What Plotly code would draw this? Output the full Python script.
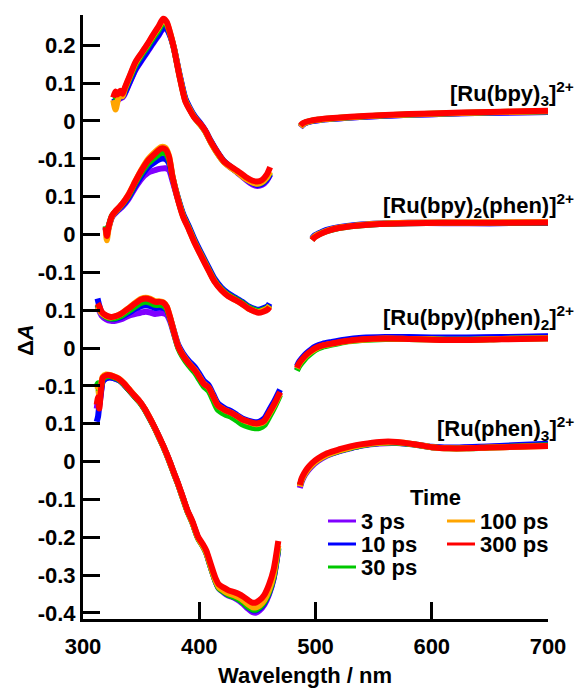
import plotly.graph_objects as go

# ---------------- data ----------------
time_labels = ["3 ps", "10 ps", "30 ps", "100 ps", "300 ps"]
time_colors = ["#8000ff", "#0000ff", "#00c800", "#ffa500", "#ff0000"]

compound_labels = ["[Ru(bpy)<sub>3</sub>]<sup>2+</sup>",
                   "[Ru(bpy)<sub>2</sub>(phen)]<sup>2+</sup>",
                   "[Ru(bpy)(phen)<sub>2</sub>]<sup>2+</sup>",
                   "[Ru(phen)<sub>3</sub>]<sup>2+</sup>"]
panel_offsets = [0.9, 0.6, 0.3, 0.0]

ytick_vals = [-0.4, -0.3, -0.2, -0.1, 0.0, 0.1, 0.2, 0.3, 0.4, 0.5, 0.6, 0.7, 0.8, 0.9, 1.0, 1.1]
ytick_text = ["-0.4", "-0.3", "-0.2", "-0.1", "0", "0.1", "-0.1", "0", "0.1",
              "-0.1", "0", "0.1", "-0.1", "0", "0.1", "0.2"]
xtick_vals = [300, 400, 500, 600, 700]

# Panel 1: [Ru(bpy)3]2+
p1_uv_wl = [326, 328, 330, 332, 334, 336, 340, 345, 350, 355, 360, 365, 369, 372, 375, 378, 383, 388, 392, 396, 401, 405, 410, 415, 421, 427, 433, 440, 446, 450, 454, 458, 461]
p1_uv_300 = [0.062, 0.078, 0.070, 0.080, 0.072, 0.088, 0.118, 0.155, 0.178, 0.201, 0.226, 0.250, 0.270, 0.262, 0.232, 0.195, 0.118, 0.052, 0.028, 0.008, -0.008, -0.025, -0.055, -0.080, -0.106, -0.120, -0.132, -0.148, -0.158, -0.160, -0.156, -0.142, -0.122]
p1_uv_100 = [0.055, 0.030, 0.055, 0.070, 0.065, 0.085, 0.116, 0.152, 0.177, 0.200, 0.224, 0.247, 0.266, 0.259, 0.232, 0.196, 0.120, 0.054, 0.030, 0.009, -0.010, -0.027, -0.057, -0.083, -0.108, -0.123, -0.136, -0.153, -0.163, -0.166, -0.162, -0.150, -0.134]
p1_uv_30 = [0.058, 0.060, 0.062, 0.066, 0.068, 0.082, 0.112, 0.147, 0.172, 0.194, 0.218, 0.240, 0.260, 0.254, 0.229, 0.195, 0.120, 0.055, 0.030, 0.009, -0.010, -0.027, -0.056, -0.082, -0.107, -0.122, -0.135, -0.152, -0.162, -0.165, -0.162, -0.150, -0.136]
p1_uv_10 = [0.050, 0.055, 0.058, 0.062, 0.064, 0.074, 0.102, 0.136, 0.160, 0.183, 0.206, 0.228, 0.246, 0.244, 0.226, 0.196, 0.124, 0.060, 0.034, 0.013, -0.006, -0.024, -0.053, -0.079, -0.105, -0.121, -0.135, -0.153, -0.165, -0.169, -0.166, -0.155, -0.140]
p1_uv_3 = [0.048, 0.052, 0.055, 0.060, 0.062, 0.072, 0.100, 0.134, 0.158, 0.181, 0.204, 0.226, 0.244, 0.242, 0.224, 0.194, 0.122, 0.058, 0.032, 0.011, -0.008, -0.026, -0.055, -0.081, -0.107, -0.123, -0.137, -0.155, -0.168, -0.172, -0.169, -0.158, -0.142]
p1_vis_wl = [487, 489, 492, 496, 502, 512, 530, 560, 600, 650, 700]
p1_vis_300 = [-0.012, -0.006, -0.002, 0.001, 0.004, 0.007, 0.011, 0.016, 0.020, 0.024, 0.027]
p1_vis_100 = [-0.016, -0.009, -0.004, 0.000, 0.003, 0.006, 0.010, 0.015, 0.019, 0.023, 0.026]
p1_vis_30 = [-0.014, -0.008, -0.003, 0.000, 0.003, 0.006, 0.010, 0.015, 0.019, 0.023, 0.026]
p1_vis_10 = [-0.016, -0.010, -0.005, -0.001, 0.002, 0.005, 0.009, 0.014, 0.018, 0.022, 0.024]
p1_vis_3 = [-0.017, -0.010, -0.005, -0.001, 0.002, 0.005, 0.009, 0.014, 0.018, 0.022, 0.024]

# Panel 2: [Ru(bpy)2(phen)]2+
p2_uv_wl = [319.5, 320.5, 322, 325, 328, 331, 334, 339, 345, 350, 356, 362, 367, 371, 374, 377, 381, 386, 391, 396, 402, 408, 413, 419, 425, 431, 437, 442, 448, 451, 455, 459, 460.5]
p2_uv_300 = [0.020, -0.004, 0.020, 0.050, 0.062, 0.072, 0.082, 0.104, 0.140, 0.168, 0.196, 0.214, 0.227, 0.225, 0.205, 0.152, 0.100, 0.048, 0.014, -0.022, -0.059, -0.095, -0.124, -0.147, -0.163, -0.173, -0.184, -0.195, -0.204, -0.207, -0.204, -0.198, -0.192]
p2_uv_100 = [0.015, -0.015, 0.015, 0.048, 0.061, 0.071, 0.082, 0.105, 0.141, 0.170, 0.199, 0.218, 0.231, 0.229, 0.208, 0.154, 0.101, 0.049, 0.015, -0.021, -0.058, -0.094, -0.123, -0.146, -0.162, -0.173, -0.184, -0.195, -0.203, -0.205, -0.201, -0.194, -0.188]
p2_uv_30 = [0.022, 0.005, 0.022, 0.050, 0.061, 0.070, 0.080, 0.101, 0.136, 0.162, 0.188, 0.204, 0.215, 0.214, 0.198, 0.152, 0.102, 0.051, 0.017, -0.019, -0.056, -0.092, -0.121, -0.144, -0.160, -0.170, -0.181, -0.192, -0.200, -0.202, -0.199, -0.193, -0.187]
p2_uv_10 = [0.018, 0.000, 0.020, 0.048, 0.059, 0.068, 0.077, 0.097, 0.129, 0.154, 0.178, 0.192, 0.200, 0.199, 0.188, 0.150, 0.104, 0.055, 0.022, -0.014, -0.051, -0.087, -0.116, -0.140, -0.156, -0.167, -0.178, -0.189, -0.197, -0.199, -0.195, -0.189, -0.182]
p2_uv_3 = [0.016, -0.002, 0.018, 0.046, 0.057, 0.066, 0.074, 0.093, 0.124, 0.146, 0.163, 0.170, 0.174, 0.175, 0.170, 0.142, 0.100, 0.052, 0.019, -0.017, -0.054, -0.090, -0.119, -0.142, -0.158, -0.169, -0.180, -0.191, -0.199, -0.201, -0.197, -0.191, -0.185]
p2_vis_wl = [497, 499, 502, 506, 512, 520, 535, 555, 580, 610, 650, 700]
p2_vis_300 = [-0.015, -0.008, -0.002, 0.004, 0.011, 0.017, 0.023, 0.028, 0.030, 0.031, 0.031, 0.032]
p2_vis_100 = [-0.013, -0.006, 0.000, 0.005, 0.012, 0.018, 0.024, 0.029, 0.031, 0.032, 0.032, 0.033]
p2_vis_30 = [-0.014, -0.007, -0.001, 0.005, 0.011, 0.017, 0.023, 0.028, 0.030, 0.031, 0.031, 0.032]
p2_vis_10 = [-0.010, -0.003, 0.002, 0.008, 0.014, 0.019, 0.025, 0.029, 0.031, 0.031, 0.030, 0.031]
p2_vis_3 = [-0.012, -0.005, 0.001, 0.006, 0.012, 0.018, 0.024, 0.028, 0.030, 0.030, 0.030, 0.031]

# Panel 3: [Ru(bpy)(phen)2]2+
p3_uv_wl = [312.5, 314, 316, 320, 324, 328, 333, 339, 345, 350, 354, 358, 362, 366, 369, 372, 375, 378, 382, 386, 391, 396, 400, 404, 408, 412, 416, 422, 428, 433, 437, 442, 448, 452, 456, 460, 465, 469.5]
p3_uv_300 = [0.118, 0.110, 0.096, 0.086, 0.082, 0.084, 0.091, 0.104, 0.118, 0.128, 0.131, 0.128, 0.122, 0.122, 0.120, 0.109, 0.080, 0.045, 0.003, -0.020, -0.041, -0.058, -0.076, -0.095, -0.104, -0.128, -0.152, -0.164, -0.172, -0.181, -0.189, -0.194, -0.199, -0.198, -0.192, -0.172, -0.145, -0.116]
p3_uv_100 = [0.110, 0.102, 0.092, 0.084, 0.081, 0.084, 0.091, 0.105, 0.120, 0.130, 0.133, 0.130, 0.124, 0.123, 0.121, 0.110, 0.081, 0.046, 0.004, -0.019, -0.040, -0.057, -0.075, -0.094, -0.104, -0.128, -0.152, -0.164, -0.172, -0.181, -0.189, -0.195, -0.201, -0.200, -0.194, -0.175, -0.148, -0.120]
p3_uv_30 = [0.115, 0.104, 0.092, 0.082, 0.078, 0.079, 0.085, 0.097, 0.110, 0.119, 0.122, 0.119, 0.114, 0.114, 0.112, 0.103, 0.077, 0.043, 0.000, -0.024, -0.046, -0.064, -0.083, -0.102, -0.113, -0.138, -0.163, -0.175, -0.183, -0.193, -0.202, -0.208, -0.212, -0.211, -0.204, -0.183, -0.154, -0.124]
p3_uv_10 = [0.131, 0.112, 0.094, 0.082, 0.077, 0.077, 0.082, 0.092, 0.104, 0.111, 0.113, 0.111, 0.106, 0.107, 0.106, 0.100, 0.078, 0.047, 0.008, -0.014, -0.034, -0.050, -0.068, -0.087, -0.098, -0.122, -0.146, -0.159, -0.168, -0.178, -0.186, -0.192, -0.196, -0.194, -0.186, -0.165, -0.138, -0.110]
p3_uv_3 = [0.112, 0.098, 0.086, 0.076, 0.072, 0.072, 0.076, 0.085, 0.090, 0.094, 0.096, 0.094, 0.090, 0.092, 0.092, 0.088, 0.070, 0.040, 0.002, -0.020, -0.040, -0.056, -0.074, -0.093, -0.104, -0.128, -0.152, -0.165, -0.173, -0.183, -0.191, -0.196, -0.200, -0.199, -0.192, -0.172, -0.146, -0.118]
p3_vis_wl = [484, 486, 489, 492, 496, 500, 506, 514, 525, 540, 560, 580, 600, 630, 660, 700]
p3_vis_300 = [-0.052, -0.040, -0.028, -0.018, -0.008, 0.000, 0.007, 0.012, 0.018, 0.023, 0.025, 0.024, 0.022, 0.021, 0.023, 0.025]
p3_vis_100 = [-0.054, -0.042, -0.030, -0.020, -0.010, -0.002, 0.006, 0.011, 0.017, 0.022, 0.025, 0.024, 0.023, 0.022, 0.024, 0.026]
p3_vis_30 = [-0.060, -0.048, -0.036, -0.025, -0.014, -0.005, 0.003, 0.009, 0.016, 0.021, 0.024, 0.024, 0.023, 0.022, 0.024, 0.026]
p3_vis_10 = [-0.048, -0.036, -0.024, -0.014, -0.004, 0.004, 0.011, 0.016, 0.022, 0.027, 0.029, 0.029, 0.028, 0.028, 0.029, 0.031]
p3_vis_3 = [-0.058, -0.045, -0.032, -0.021, -0.010, -0.001, 0.007, 0.013, 0.019, 0.024, 0.027, 0.027, 0.026, 0.026, 0.028, 0.030]

# Panel 4: [Ru(phen)3]2+
p4_uv_wl = [311.8, 313, 314, 315.5, 317, 320, 323, 327, 331, 335, 339, 344, 349, 353, 358, 362, 366, 370, 374, 378, 382, 386, 390, 394, 399, 403, 406, 410, 414, 417, 421, 425, 430, 434, 438, 442, 446, 449, 452, 456, 460, 464, 468]
p4_uv_300 = [0.150, 0.170, 0.140, 0.190, 0.222, 0.228, 0.228, 0.224, 0.218, 0.207, 0.193, 0.175, 0.158, 0.140, 0.112, 0.088, 0.062, 0.035, 0.005, -0.028, -0.060, -0.095, -0.130, -0.157, -0.199, -0.218, -0.235, -0.272, -0.308, -0.325, -0.333, -0.340, -0.345, -0.350, -0.357, -0.366, -0.373, -0.372, -0.366, -0.352, -0.325, -0.285, -0.210]
p4_uv_100 = [0.190, 0.194, 0.170, 0.200, 0.224, 0.230, 0.229, 0.225, 0.219, 0.208, 0.194, 0.176, 0.158, 0.140, 0.112, 0.087, 0.061, 0.034, 0.004, -0.029, -0.061, -0.097, -0.132, -0.160, -0.202, -0.222, -0.240, -0.278, -0.314, -0.332, -0.341, -0.348, -0.353, -0.359, -0.367, -0.377, -0.385, -0.385, -0.380, -0.366, -0.340, -0.298, -0.222]
p4_uv_30 = [0.200, 0.207, 0.175, 0.196, 0.218, 0.225, 0.226, 0.222, 0.216, 0.205, 0.191, 0.173, 0.156, 0.138, 0.110, 0.086, 0.060, 0.033, 0.003, -0.030, -0.062, -0.098, -0.133, -0.161, -0.203, -0.223, -0.241, -0.280, -0.316, -0.335, -0.344, -0.352, -0.358, -0.364, -0.373, -0.384, -0.391, -0.391, -0.385, -0.371, -0.345, -0.304, -0.228]
p4_uv_10 = [0.105, 0.120, 0.150, 0.185, 0.212, 0.220, 0.222, 0.220, 0.215, 0.205, 0.191, 0.174, 0.157, 0.139, 0.111, 0.087, 0.061, 0.034, 0.004, -0.029, -0.061, -0.097, -0.132, -0.160, -0.202, -0.222, -0.240, -0.279, -0.315, -0.334, -0.344, -0.352, -0.358, -0.364, -0.373, -0.385, -0.393, -0.393, -0.388, -0.374, -0.348, -0.307, -0.230]
p4_uv_3 = [0.140, 0.160, 0.150, 0.182, 0.212, 0.221, 0.223, 0.220, 0.215, 0.205, 0.191, 0.174, 0.157, 0.139, 0.111, 0.087, 0.061, 0.034, 0.004, -0.029, -0.061, -0.097, -0.132, -0.160, -0.202, -0.222, -0.241, -0.280, -0.317, -0.336, -0.346, -0.354, -0.360, -0.367, -0.377, -0.389, -0.398, -0.399, -0.393, -0.378, -0.351, -0.309, -0.232]
p4_vis_wl = [486.5, 488, 490, 493, 497, 502, 510, 520, 530, 540, 555, 570, 585, 600, 615, 630, 650, 675, 700]
p4_vis_300 = [-0.062, -0.045, -0.032, -0.018, -0.004, 0.008, 0.022, 0.032, 0.040, 0.046, 0.052, 0.052, 0.046, 0.038, 0.035, 0.035, 0.037, 0.039, 0.041]
p4_vis_100 = [-0.066, -0.050, -0.037, -0.023, -0.009, 0.004, 0.018, 0.029, 0.037, 0.044, 0.050, 0.051, 0.046, 0.038, 0.035, 0.035, 0.037, 0.039, 0.041]
p4_vis_30 = [-0.064, -0.049, -0.036, -0.022, -0.008, 0.004, 0.018, 0.028, 0.036, 0.043, 0.049, 0.050, 0.045, 0.038, 0.035, 0.035, 0.037, 0.040, 0.043]
p4_vis_10 = [-0.066, -0.050, -0.037, -0.023, -0.009, 0.004, 0.018, 0.028, 0.036, 0.043, 0.049, 0.050, 0.046, 0.039, 0.037, 0.038, 0.040, 0.044, 0.047]
p4_vis_3 = [-0.070, -0.054, -0.040, -0.026, -0.012, 0.001, 0.016, 0.027, 0.035, 0.042, 0.048, 0.049, 0.045, 0.038, 0.036, 0.037, 0.039, 0.042, 0.045]

panels = [
    (p1_uv_wl, [p1_uv_3, p1_uv_10, p1_uv_30, p1_uv_100, p1_uv_300],
     p1_vis_wl, [p1_vis_3, p1_vis_10, p1_vis_30, p1_vis_100, p1_vis_300]),
    (p2_uv_wl, [p2_uv_3, p2_uv_10, p2_uv_30, p2_uv_100, p2_uv_300],
     p2_vis_wl, [p2_vis_3, p2_vis_10, p2_vis_30, p2_vis_100, p2_vis_300]),
    (p3_uv_wl, [p3_uv_3, p3_uv_10, p3_uv_30, p3_uv_100, p3_uv_300],
     p3_vis_wl, [p3_vis_3, p3_vis_10, p3_vis_30, p3_vis_100, p3_vis_300]),
    (p4_uv_wl, [p4_uv_3, p4_uv_10, p4_uv_30, p4_uv_100, p4_uv_300],
     p4_vis_wl, [p4_vis_3, p4_vis_10, p4_vis_30, p4_vis_100, p4_vis_300]),
]

# ---------------- styling ----------------
FONT = "Arial, 'Liberation Sans', Helvetica, sans-serif"
W, H = 578, 689
ML, MR, MT, MB = 83, 30, 15, 70
PW, PH = W - ML - MR, H - MT - MB


def px_x(px):
    return (px - ML) / PW


def px_y(py):
    return (H - MB - py) / PH


def tfont(size=22):
    return dict(family=FONT, size=size, color="black", weight="bold")


fig = go.Figure()

for (uv_wl, uv_sets, vis_wl, vis_sets), off in zip(panels, panel_offsets):
    for wl, sets in ((uv_wl, uv_sets), (vis_wl, vis_sets)):
        for vals, col, lab in zip(sets, time_colors, time_labels):
            fig.add_trace(go.Scatter(
                x=wl, y=[v + off for v in vals], mode="lines",
                line=dict(color=col, width=6, shape="spline", smoothing=0.7),
                name=lab, showlegend=False, hoverinfo="skip"))

fig.update_xaxes(range=[300, 700], tickvals=xtick_vals, ticks="inside", ticklen=17,
                 tickwidth=3, tickcolor="black", showline=True, linewidth=3,
                 linecolor="black", showgrid=False, zeroline=False,
                 ticklabelstandoff=6, tickfont=tfont())
fig.update_yaxes(range=[-0.416, 1.18], tickvals=ytick_vals, ticktext=ytick_text,
                 ticks="inside", ticklen=17, tickwidth=3, tickcolor="black",
                 showline=True, linewidth=3, linecolor="black", showgrid=False,
                 zeroline=False, tickfont=tfont())

annots = []
# compound labels (right-aligned)
label_px_y = [93, 205, 317, 428]
for lab, py in zip(compound_labels, label_px_y):
    annots.append(dict(text=lab, x=px_x(576), y=px_y(py), xref="paper", yref="paper",
                       xanchor="right", yanchor="middle", showarrow=False,
                       font=tfont()))
# axis titles
annots.append(dict(text="Wavelength / nm", x=px_x(305), y=px_y(675), xref="paper",
                   yref="paper", xanchor="center", yanchor="middle", showarrow=False,
                   font=tfont()))
annots.append(dict(text="Δ<i>A</i>", x=px_x(25), y=px_y(340), xref="paper",
                   yref="paper", xanchor="center", yanchor="middle", showarrow=False,
                   textangle=-90, font=tfont()))
# legend
annots.append(dict(text="Time", x=px_x(435), y=px_y(497), xref="paper", yref="paper",
                   xanchor="center", yanchor="middle", showarrow=False,
                   font=tfont()))
leg_pos = [(328, 521), (328, 544), (328, 567), (447, 521), (447, 544)]
shapes = []
for (lx, ly), col, lab in zip(leg_pos, time_colors, time_labels):
    shapes.append(dict(type="line", xref="paper", yref="paper",
                       x0=px_x(lx), x1=px_x(lx + 28), y0=px_y(ly), y1=px_y(ly),
                       line=dict(color=col, width=3)))
    annots.append(dict(text=lab, x=px_x(lx + 31), y=px_y(ly), xref="paper",
                       yref="paper", xanchor="left", yanchor="middle",
                       showarrow=False, font=tfont()))

fig.update_layout(width=W, height=H, margin=dict(l=ML, r=MR, t=MT, b=MB),
                  plot_bgcolor="white", paper_bgcolor="white", showlegend=False,
                  annotations=annots, shapes=shapes)

fig.write_html("out.html", config={"displayModeBar": False},
               post_script="document.body.style.margin='0';document.body.style.padding='0';")
